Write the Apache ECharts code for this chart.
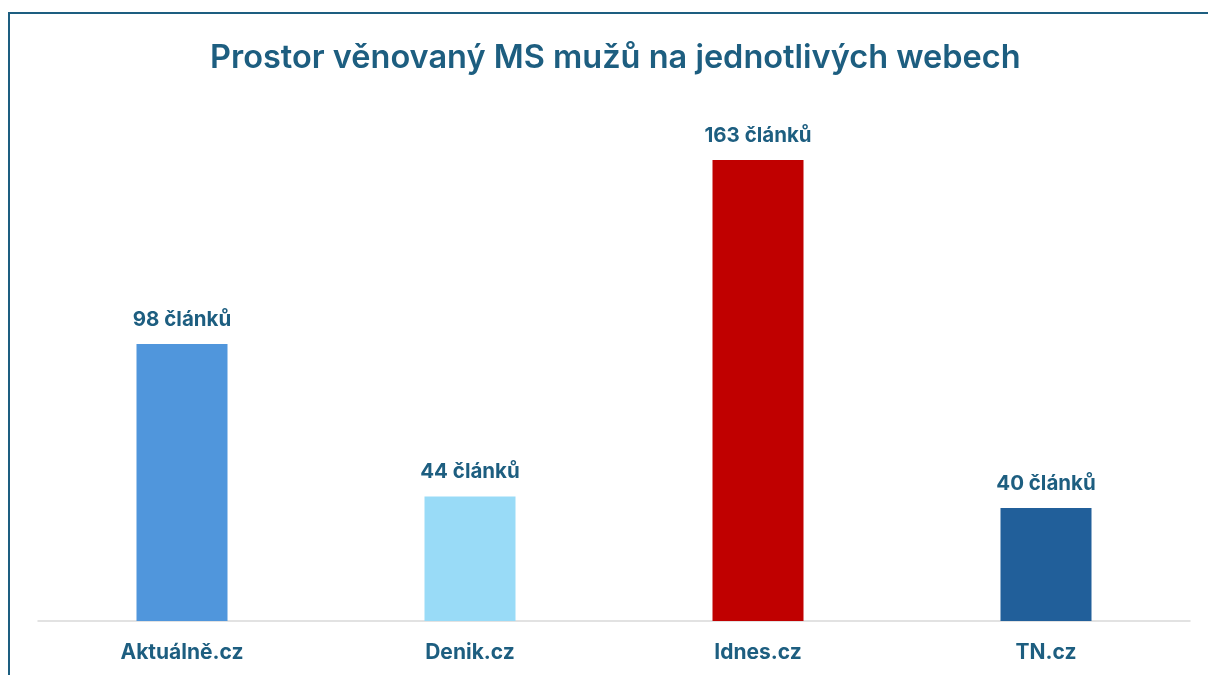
<!DOCTYPE html>
<html>
<head>
<meta charset="utf-8">
<script src="https://cdn.jsdelivr.net/npm/echarts@6/dist/echarts.min.js"></script>
<style>
    html,body{margin:0;padding:0;background:#fff;overflow:hidden;}
    #chart{width:1208px;height:675px;}
    #frame{position:absolute;left:8px;top:12px;width:1300px;height:800px;border:2px solid #1d5e80;box-sizing:border-box;pointer-events:none;}
</style>
</head>
<body>
<div id="chart"></div>
<div id="frame"></div>
<script>
const categories = ['Aktuálně.cz', 'Denik.cz', 'Idnes.cz', 'TN.cz'];
const values = [98, 44, 163, 40];
const barColors = ['#5096dc', '#99dbf7', '#c00000', '#215f9a'];

const chart = echarts.init(document.getElementById('chart'));
const textColor = '#1d5e80';

chart.setOption({
    animation:false,
    title:{
        text:'Prostor věnovaný MS mužů na jednotlivých webech',
        left:205,
        top:37,
        textStyle:{
            color:textColor,
            fontFamily:'Inter',
            fontWeight:600,
            fontSize:32.5
        }
    },
    grid:{
        left:38,
        width:1152,
        top:112,
        height:509,
        containLabel:false
    },
    xAxis:{
        type:'category',
        data:categories,
        axisLine:{
            show:true,
            lineStyle:{color:'#d9d9d9',width:1.5}
        },
        axisTick:{show:false},
        axisLabel:{
            color:textColor,
            fontFamily:'Inter',
            fontWeight:700,
            fontSize:21,
            margin:21
        }
    },
    yAxis:{
        type:'value',
        min:0,
        max:180,
        show:false,
        splitLine:{show:false}
    },
    series:[{
        type:'bar',
        barWidth:91,
        data:values.map((v,i)=>({value:v,itemStyle:{color:barColors[i]}})),
        label:{
            show:true,
            position:'top',
            distance:14,
            color:textColor,
            fontFamily:'Inter',
            fontWeight:700,
            fontSize:20.5,
            formatter:'{c} článků'
        }
    }]
});
</script>
</body>
</html>
